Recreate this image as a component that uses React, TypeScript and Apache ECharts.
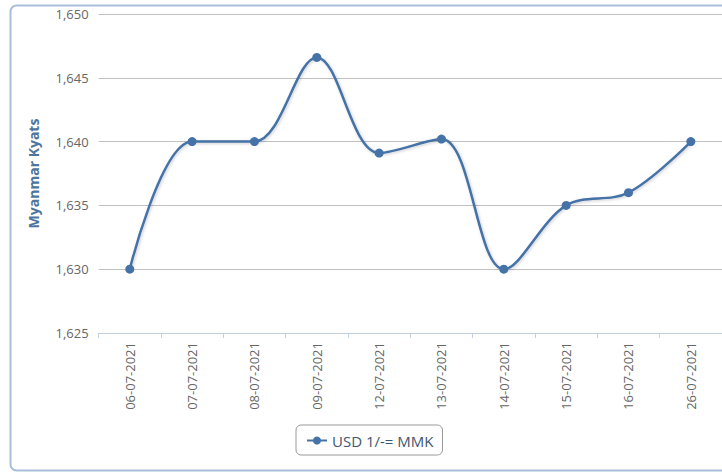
import React, { useEffect, useRef } from "react";
import * as echarts from "echarts";

const categories = [
  "06-07-2021", "07-07-2021", "08-07-2021", "09-07-2021", "12-07-2021",
  "13-07-2021", "14-07-2021", "15-07-2021", "16-07-2021", "26-07-2021",
];
const rates = [1630, 1640, 1640, 1646.6, 1639.1, 1640.2, 1630, 1635, 1636, 1640];
const seriesName = "USD 1/-= MMK";
const yTitle = "Myanmar Kyats";

const FONT = "'Open Sans', 'Noto Sans', sans-serif";

export default function App() {
  const ref = useRef<HTMLDivElement>(null);
  useEffect(() => {
    if (!ref.current) return;
    const chart = echarts.init(ref.current, undefined, { renderer: "svg" });
    chart.setOption({
      animation: false,
      backgroundColor: "#ffffff",
      graphic: [
        {
          type: "rect",
          z: -1,
          shape: { x: 10.5, y: 5.5, width: 730, height: 465, r: 6 },
          style: { fill: "none", stroke: "#a9bedb", lineWidth: 2 },
          silent: true,
        },
      ],
      grid: { left: 98.6, top: 14, width: 627, height: 319, containLabel: false },
      legend: {
        data: [seriesName],
        left: 296,
        top: 425,
        padding: [8, 9, 7, 10],
        borderColor: "#999999",
        borderWidth: 1,
        borderRadius: 5,
        itemWidth: 20,
        itemHeight: 10,
        itemGap: 6,
        textStyle: { color: "#3e576f", fontSize: 15, fontFamily: FONT },
      },
      xAxis: {
        type: "category",
        data: categories,
        boundaryGap: true,
        axisLine: { lineStyle: { color: "#c0d0e0", width: 1 } },
        axisTick: { show: true, length: 5, lineStyle: { color: "#c0d0e0" } },
        axisLabel: {
          rotate: 90,
          color: "#666666",
          fontSize: 13,
          fontFamily: FONT,
          margin: 9,
          interval: 0,
        },
        splitLine: { show: false },
      },
      yAxis: {
        type: "value",
        min: 1625,
        max: 1650,
        interval: 5,
        name: yTitle,
        nameLocation: "middle",
        nameGap: 58,
        nameTextStyle: { color: "#4d759e", fontWeight: "bold", fontSize: 14, fontFamily: FONT },
        axisLine: { show: false },
        axisTick: { show: false },
        axisLabel: {
          color: "#666666",
          fontSize: 13,
          fontFamily: FONT,
          margin: 10,
          formatter: (v: number) => v.toLocaleString("en-US"),
        },
        splitLine: { lineStyle: { color: "#c0c0c0", width: 1 } },
      },
      series: [
        {
          name: seriesName,
          type: "line",
          data: rates,
          smooth: 0.35,
          symbol: "circle",
          symbolSize: 9,
          lineStyle: {
            color: "#4572a7",
            width: 2.5,
            shadowColor: "rgba(0,0,0,0.2)",
            shadowBlur: 3,
            shadowOffsetX: 1,
            shadowOffsetY: 1,
          },
          itemStyle: { color: "#4572a7" },
        },
      ],
    });
    return () => chart.dispose();
  }, []);
  return (
    <div
      ref={ref}
      style={{ position: "fixed", left: 0, top: 0, width: 722, height: 473 }}
    />
  );
}
